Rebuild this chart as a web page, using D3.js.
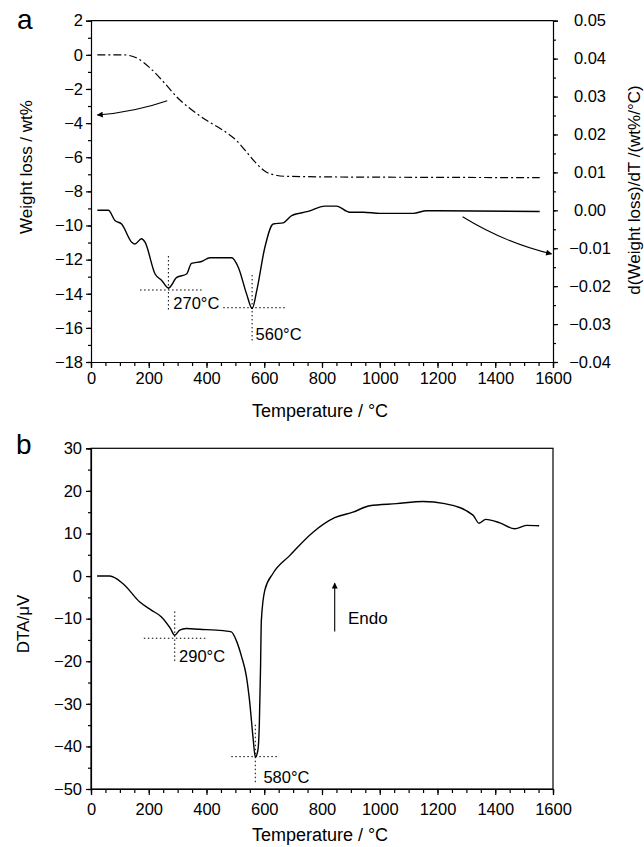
<!DOCTYPE html>
<html><head><meta charset="utf-8">
<script src="https://cdn.jsdelivr.net/npm/d3@7"></script>
<style>
html,body{margin:0;padding:0;background:#fff;}
svg text{font-family:"Liberation Sans",Arial,sans-serif;fill:#000;}
</style></head>
<body><svg id="c" width="644" height="847"></svg>
<script>
// ---- Data: panel a, TG (weight loss, wt%) ----
const tgT = [22, 112, 160, 204, 256, 297, 343, 400, 458, 504, 539, 574, 608, 640, 677, 800, 1000, 1200, 1554];
const tgW = [0, 0, -0.2, -0.76, -1.68, -2.47, -3.15, -3.84, -4.43, -5.02, -5.7, -6.39, -6.88, -7.05, -7.12, -7.15, -7.17, -7.18, -7.2];
// ---- panel a, DTG (wt%/°C) ----
const dtgT = [22, 60, 83, 106, 141, 152, 175, 187, 222, 245, 268, 297, 331, 348, 383, 412, 487, 510, 539, 558, 574, 602, 631, 666, 695, 752, 810, 850, 896, 943, 1000, 1116, 1162, 1554];
const dtgV = [0, 0, -0.0027, -0.0036, -0.0084, -0.0089, -0.0075, -0.0084, -0.0168, -0.0185, -0.0205, -0.0177, -0.0168, -0.0140, -0.0135, -0.0125, -0.0125, -0.0150, -0.0221, -0.0259, -0.0212, -0.0098, -0.0036, -0.0033, -0.0014, -0.0003, 0.0011, 0.0011, -0.0005, -0.0005, -0.0008, -0.0008, -0.0001, -0.0003];
// ---- panel b, DTA (µV) ----
const dtaT = [21, 65, 111, 169, 209, 244, 275, 290, 307, 330, 376, 434, 486, 503, 521, 538, 549, 561, 569, 578, 583, 587, 590, 602, 630, 688, 769, 844, 907, 965, 1058, 1150, 1225, 1323, 1344, 1367, 1416, 1468, 1508, 1552];
const dtaV = [0, 0, -1.8, -6.1, -8.0, -9.6, -12.3, -13.9, -12.7, -12.3, -12.5, -12.7, -13.1, -15.1, -18.8, -23.5, -29.2, -37.8, -42.5, -40.9, -34.6, -22, -10.4, -3.3, 0.6, 4.8, 10.3, 13.7, 15.0, 16.5, 17.0, 17.5, 17.0, 14.3, 12.4, 13.3, 12.5, 11.1, 11.9, 11.8];
// ---- ticks ----
const xTicks = [0, 200, 400, 600, 800, 1000, 1200, 1400, 1600];
const xMinor = d3.range(0, 1601, 50);
const yaTicks = [2, 0, -2, -4, -6, -8, -10, -12, -14, -16, -18];
const yaMinor = d3.range(-18, 2.01, 1);
const yrTicks = [0.05, 0.04, 0.03, 0.02, 0.01, 0, -0.01, -0.02, -0.03, -0.04];
const yrMinor = d3.range(-0.04, 0.0501, 0.005);
const ybTicks = [30, 20, 10, 0, -10, -20, -30, -40, -50];
const ybMinor = d3.range(-50, 30.1, 5);
// ---- annotations (data units) ----
const peaksA = [{t: 268, y0: -11.79, y1: -14.95, h: -13.78, h0: 170, h1: 389, lt: 285, ly: -14.92, label: "270°C"},
                {t: 558, y0: -12.9, y1: -16.89, h: -14.82, h0: 458, h1: 678, lt: 570, ly: -16.71, label: "560°C"}];
const peaksB = [{t: 290, y0: -8.3, y1: -20.1, h: -14.6, h0: 183, h1: 400, lt: 305, ly: -20.1, label: "290°C"},
                {t: 569, y0: -34.9, y1: -48.6, h: -42.4, h0: 486, h1: 651, lt: 597, ly: -48.6, label: "580°C"}];

const svg = d3.select("#c");
const fmt = v => (v < 0 ? "\u2212" : "") + Math.abs(v);
const fmt2 = v => (v < -1e-9 ? "\u2212" : "") + Math.abs(v).toFixed(2);

svg.append("defs").append("marker").attr("id", "ah").attr("viewBox", "0 0 10 10")
  .attr("refX", 9).attr("refY", 5).attr("markerWidth", 9).attr("markerHeight", 6)
  .attr("markerUnits", "userSpaceOnUse").attr("orient", "auto")
  .append("path").attr("d", "M0,0 L10,5 L0,10 z").attr("fill", "#000");

function styleAxis(g) {
  g.selectAll("path,line").attr("stroke", "#000").attr("stroke-width", 1.2);
  g.selectAll("text").attr("font-size", 16.5).attr("font-family", '"Liberation Sans",Arial,sans-serif');
}
function minorAxis(g, axis) {
  g.call(axis); g.select(".domain").remove(); g.selectAll("text").remove();
  g.selectAll("line").attr("stroke", "#000").attr("stroke-width", 1.2);
}

// ===== Panel a =====
const L = 91, R = 553;
const xa = d3.scaleLinear([0, 1600], [L, R]);
const ya = d3.scaleLinear([-18, 2], [362, 20.7]);
const yr = d3.scaleLinear([-0.04, 0.05], [362, 20.7]);

const ga = svg.append("g");
ga.append("line").attr("x1", L).attr("x2", R).attr("y1", 20.7).attr("y2", 20.7).attr("stroke", "#000").attr("stroke-width", 1.2);
ga.append("g").attr("transform", "translate(0,362)").call(g => minorAxis(g, d3.axisBottom(xa).tickValues(xMinor).tickSize(4)));
ga.append("g").attr("transform", "translate(0,362)").call(d3.axisBottom(xa).tickValues(xTicks).tickSize(6).tickPadding(4).tickFormat(d3.format("d"))).call(styleAxis);
ga.append("g").attr("transform", `translate(${L},0)`).call(g => minorAxis(g, d3.axisLeft(ya).tickValues(yaMinor).tickSize(3)));
ga.append("g").attr("transform", `translate(${L},0)`).call(d3.axisLeft(ya).tickValues(yaTicks).tickSize(5).tickPadding(3).tickFormat(fmt)).call(styleAxis);
ga.append("g").attr("transform", `translate(${R},0)`).call(g => minorAxis(g, d3.axisRight(yr).tickValues(yrMinor).tickSize(3)));
const rAx = ga.append("g").attr("transform", `translate(${R},0)`).call(d3.axisRight(yr).tickValues(yrTicks).tickSize(5).tickFormat(fmt2)).call(styleAxis);
rAx.selectAll("text").attr("text-anchor", "middle").attr("x", 37);

ga.append("text").attr("x", 320).attr("y", 417).attr("text-anchor", "middle").attr("font-size", 18).text("Temperature / °C");
ga.append("text").attr("transform", "translate(32,167) rotate(-90)").attr("text-anchor", "middle").attr("font-size", 17).text("Weight loss / wt%");
ga.append("text").attr("transform", "translate(640,190) rotate(-90)").attr("text-anchor", "middle").attr("font-size", 17).text("d(Weight loss)/dT /(wt%/°C)");
ga.append("text").attr("x", 17).attr("y", 29).attr("font-size", 28).text("a");

ga.append("path").datum(d3.range(tgT.length)).attr("fill", "none").attr("stroke", "#000").attr("stroke-width", 1.2)
  .attr("stroke-dasharray", "8,3,2,3")
  .attr("d", d3.line().x(i => xa(tgT[i])).y(i => ya(tgW[i])).curve(d3.curveMonotoneX));
ga.append("path").datum(d3.range(dtgT.length)).attr("fill", "none").attr("stroke", "#000").attr("stroke-width", 1.4)
  .attr("d", d3.line().x(i => xa(dtgT[i])).y(i => yr(dtgV[i])).curve(d3.curveMonotoneX));

peaksA.forEach(p => {
  ga.append("line").attr("x1", xa(p.t)).attr("x2", xa(p.t)).attr("y1", ya(p.y0)).attr("y2", ya(p.y1)).attr("stroke", "#000").attr("stroke-width", 1).attr("stroke-dasharray", "1.5,2.5");
  ga.append("line").attr("x1", xa(p.h0)).attr("x2", xa(p.h1)).attr("y1", ya(p.h)).attr("y2", ya(p.h)).attr("stroke", "#000").attr("stroke-width", 1).attr("stroke-dasharray", "1.5,2.5");
  ga.append("text").attr("x", xa(p.lt)).attr("y", ya(p.ly)).attr("font-size", 16.5).text(p.label);
});
// arrows
ga.append("path").attr("fill", "none").attr("stroke", "#000").attr("stroke-width", 1.1).attr("marker-end", "url(#ah)")
  .attr("d", `M${xa(264)},${ya(-2.69)} Q${xa(152)},${ya(-3.35)} ${xa(22)},${ya(-3.53)}`);
ga.append("path").attr("fill", "none").attr("stroke", "#000").attr("stroke-width", 1.1).attr("marker-end", "url(#ah)")
  .attr("d", `M${xa(1287)},${yr(-0.0017)} Q${xa(1434)},${yr(-0.0086)} ${xa(1595)},${yr(-0.0115)}`);

// ===== Panel b =====
const xb = d3.scaleLinear([0, 1600], [L, R]);
const yb = d3.scaleLinear([-50, 30], [789, 448.3]);
const gb = svg.append("g");
gb.append("rect").attr("x", L).attr("y", 448.3).attr("width", R - L).attr("height", 789 - 448.3).attr("fill", "none").attr("stroke", "#000").attr("stroke-width", 1.2);
gb.append("g").attr("transform", "translate(0,789)").call(g => minorAxis(g, d3.axisBottom(xb).tickValues(xMinor).tickSize(4)));
gb.append("g").attr("transform", "translate(0,789)").call(d3.axisBottom(xb).tickValues(xTicks).tickSize(6).tickPadding(8).tickFormat(d3.format("d"))).call(styleAxis);
gb.append("g").attr("transform", `translate(${L},0)`).call(g => minorAxis(g, d3.axisLeft(yb).tickValues(ybMinor).tickSize(3)));
gb.append("g").attr("transform", `translate(${L},0)`).call(d3.axisLeft(yb).tickValues(ybTicks).tickSize(5).tickPadding(4).tickFormat(fmt)).call(styleAxis);

gb.append("text").attr("x", 320).attr("y", 841).attr("text-anchor", "middle").attr("font-size", 18).text("Temperature / °C");
gb.append("text").attr("transform", "translate(29,624) rotate(-90)").attr("text-anchor", "middle").attr("font-size", 17).text("DTA/\u03bcV");
gb.append("text").attr("x", 16).attr("y", 454).attr("font-size", 28).text("b");

gb.append("path").datum(d3.range(dtaT.length)).attr("fill", "none").attr("stroke", "#000").attr("stroke-width", 1.4)
  .attr("d", d3.line().x(i => xb(dtaT[i])).y(i => yb(dtaV[i])).curve(d3.curveMonotoneX));

peaksB.forEach(p => {
  gb.append("line").attr("x1", xb(p.t)).attr("x2", xb(p.t)).attr("y1", yb(p.y0)).attr("y2", yb(p.y1)).attr("stroke", "#000").attr("stroke-width", 1).attr("stroke-dasharray", "1.5,2.5");
  gb.append("line").attr("x1", xb(p.h0)).attr("x2", xb(p.h1)).attr("y1", yb(p.h)).attr("y2", yb(p.h)).attr("stroke", "#000").attr("stroke-width", 1).attr("stroke-dasharray", "1.5,2.5");
  gb.append("text").attr("x", xb(p.lt)).attr("y", yb(p.ly)).attr("font-size", 16.5).text(p.label);
});
gb.append("line").attr("x1", xb(844)).attr("x2", xb(844)).attr("y1", yb(-13.0)).attr("y2", yb(-1.67))
  .attr("stroke", "#000").attr("stroke-width", 1.1).attr("marker-end", "url(#ah)");
gb.append("text").attr("x", xb(890)).attr("y", yb(-11.2)).attr("font-size", 17).text("Endo");
</script></body></html>
